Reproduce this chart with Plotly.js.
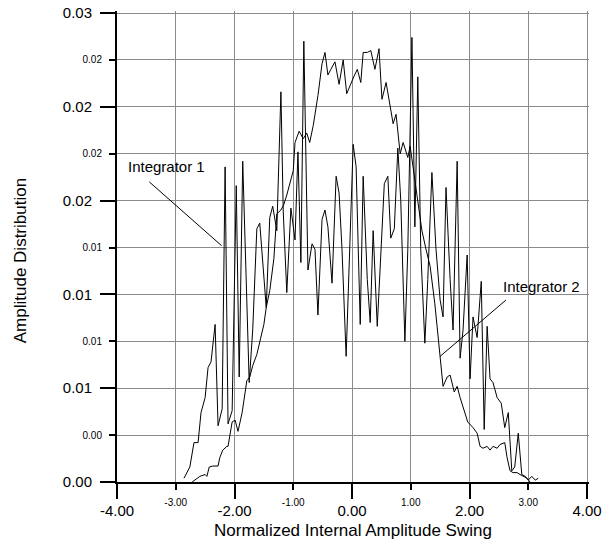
<!DOCTYPE html>
<html>
<head>
<meta charset="utf-8">
<script src="https://cdn.plot.ly/plotly-3.0.1.min.js"></script>
<style>
html,body{margin:0;padding:0;background:#fff;}
#chart{width:603px;height:542px;}
</style>
</head>
<body>
<div id="chart"></div>
<script>
// ---- Data ----
const int1X = [-2.86,-2.76,-2.69,-2.62,-2.57,-2.50,-2.45,-2.40,-2.33,-2.28,-2.21,-2.16,-2.11,-2.04,-1.97,-1.92,-1.86,-1.75,-1.69,-1.62,-1.57,-1.50,-1.46,-1.40,-1.35,-1.28,-1.21,-1.17,-1.11,-1.04,-0.97,-0.92,-0.87,-0.82,-0.75,-0.68,-0.63,-0.58,-0.51,-0.46,-0.41,-0.34,-0.27,-0.22,-0.17,-0.10,-0.05,0.02,0.07,0.14,0.19,0.26,0.31,0.36,0.43,0.48,0.55,0.61,0.66,0.72,0.78,0.83,0.90,0.95,1.02,1.07,1.12,1.17,1.24,1.29,1.36,1.43,1.50,1.55,1.60,1.67,1.72,1.79,1.84,1.89,1.96,2.01,2.06,2.13,2.20,2.25,2.30,2.35,2.40,2.47,2.54,2.60,2.66,2.72,2.77,2.83,2.89,2.95,3.00,3.06,3.12,3.17];
const int1Y = [0.0002,0.0008,0.0021,0.0021,0.0037,0.0045,0.0061,0.0064,0.0084,0.0030,0.0039,0.0168,0.0031,0.0038,0.0158,0.0056,0.0171,0.0053,0.0081,0.0135,0.0138,0.0108,0.0093,0.0141,0.0147,0.0134,0.0208,0.0144,0.0101,0.0146,0.0129,0.0176,0.0117,0.0235,0.0113,0.0127,0.0124,0.0089,0.0140,0.0145,0.0136,0.0106,0.0163,0.0154,0.0124,0.0067,0.0118,0.0180,0.0168,0.0084,0.0163,0.0108,0.0085,0.0134,0.0083,0.0118,0.0159,0.0163,0.0130,0.0135,0.0178,0.0150,0.0075,0.0124,0.0237,0.0136,0.0216,0.0124,0.0074,0.0108,0.0165,0.0124,0.0097,0.0088,0.0157,0.0108,0.0081,0.0171,0.0066,0.0081,0.0121,0.0055,0.0088,0.0077,0.0107,0.0028,0.0083,0.0055,0.0053,0.0045,0.0042,0.0029,0.0037,0.0006,0.0008,0.0026,0.0004,0.0003,0.0001,0.0003,0.0001,0.0002];

const int2X = [-2.72,-2.59,-2.50,-2.47,-2.43,-2.37,-2.28,-2.25,-2.20,-2.13,-2.11,-2.04,-1.99,-1.94,-1.87,-1.84,-1.79,-1.74,-1.69,-1.62,-1.55,-1.50,-1.46,-1.40,-1.33,-1.28,-1.21,-1.16,-1.11,-1.06,-1.00,-0.97,-0.90,-0.83,-0.77,-0.72,-0.66,-0.58,-0.51,-0.46,-0.41,-0.36,-0.29,-0.22,-0.15,-0.09,-0.03,0.03,0.09,0.15,0.19,0.26,0.32,0.39,0.46,0.51,0.58,0.63,0.70,0.75,0.82,0.87,0.95,0.99,1.06,1.12,1.19,1.26,1.33,1.41,1.50,1.55,1.62,1.67,1.74,1.79,1.84,1.89,1.97,2.06,2.13,2.18,2.23,2.30,2.35,2.40,2.47,2.52,2.60,2.64,2.69,2.74,2.81,2.86,2.91,2.98,3.03];
const int2Y = [0.0000,0.0003,0.0004,0.0003,0.0008,0.00085,0.00085,0.0013,0.0017,0.0019,0.0019,0.0032,0.0033,0.0027,0.0037,0.0044,0.0054,0.0056,0.0062,0.0068,0.0077,0.0084,0.0093,0.0102,0.0119,0.0143,0.0145,0.0148,0.0153,0.0159,0.0166,0.0181,0.0187,0.0183,0.0186,0.0181,0.0190,0.0206,0.0223,0.0229,0.0217,0.0220,0.0224,0.0212,0.0225,0.0207,0.0212,0.0216,0.0220,0.0213,0.0229,0.0229,0.0230,0.0220,0.0231,0.0204,0.0213,0.0203,0.0191,0.0196,0.0175,0.0181,0.0173,0.0179,0.0164,0.0150,0.0134,0.0124,0.0115,0.0095,0.0066,0.0051,0.0056,0.0057,0.0048,0.0051,0.0045,0.0040,0.0032,0.0029,0.0026,0.0019,0.0018,0.0019,0.0017,0.0019,0.0018,0.0020,0.0021,0.0013,0.0006,0.0005,0.0005,0.0004,0.0003,0.0002,0.0000];

// Tick values and labels
const xMajorVals = [-4, -2, 0, 2, 4];
const xMajorText = ['-4.00', '-2.00', '0.00', '2.00', '4.00'];
const xMinorVals = [-3, -1, 1, 3];
const xMinorText = ['-3.00', '-1.00', '1.00', '3.00'];
const yMajorVals = [0, 0.005, 0.01, 0.015, 0.02, 0.025];
const yMajorText = ['0.00', '0.01', '0.01', '0.02', '0.02', '0.03'];
const yMinorVals = [0.0025, 0.0075, 0.0125, 0.0175, 0.0225];
const yMinorText = ['0.00', '0.01', '0.01', '0.02', '0.02'];

// Ranges are padded by ~2px at the far ends so the edge grid lines stay visible
const xRange = [-4, 4.034];
const yRange = [0, 0.02511];

const seriesNames = ['Integrator 1', 'Integrator 2'];
const xTitle = 'Normalized Internal Amplitude Swing';
const yTitle = 'Amplitude Distribution';

// Label placement (data coordinates) for the two call-outs
const label1 = {text: 'Integrator 1', x: -3.15, y: 0.0168, lx0: -3.45, ly0: 0.0160, lx1: -2.22, ly1: 0.0126};
const label2 = {text: 'Integrator 2', x: 3.23, y: 0.0104, lx0: 2.62, ly0: 0.0097, lx1: 1.50, ly1: 0.0067};

const FONT = '"Liberation Sans", Arial, Helvetica, sans-serif';
const GRID = '#8a8a8a';

const traces = [
  {x: int1X, y: int1Y, type: 'scatter', mode: 'lines', name: seriesNames[0],
   line: {color: '#000', width: 1}, xaxis: 'x', yaxis: 'y'},
  {x: int2X, y: int2Y, type: 'scatter', mode: 'lines', name: seriesNames[1],
   line: {color: '#000', width: 1}, xaxis: 'x', yaxis: 'y'},
  {x: [], y: [], type: 'scatter', mode: 'lines', xaxis: 'x2', yaxis: 'y2',
   showlegend: false, hoverinfo: 'skip'}
];

const layout = {
  width: 603, height: 542,
  margin: {l: 117, r: 14, t: 10.5, b: 60, pad: 0},
  paper_bgcolor: '#fff', plot_bgcolor: '#fff',
  font: {family: FONT, color: '#000'},
  showlegend: false,
  xaxis: {
    range: xRange, tickmode: 'array', tickvals: xMajorVals, ticktext: xMajorText,
    ticks: 'outside', ticklen: 15, tickwidth: 2, tickcolor: '#000',
    showline: true, linewidth: 2, linecolor: '#000',
    showgrid: true, gridcolor: GRID, gridwidth: 1, zeroline: false,
    tickfont: {size: 15, family: FONT}, ticklabelstandoff: -1,
    title: {text: xTitle, font: {size: 17, family: FONT}, standoff: 6},
    fixedrange: true
  },
  xaxis2: {
    overlaying: 'x', anchor: 'y', side: 'bottom',
    range: xRange, tickmode: 'array', tickvals: xMinorVals, ticktext: xMinorText,
    ticks: 'outside', ticklen: 7, tickwidth: 2, tickcolor: '#000',
    showline: false, showgrid: true, gridcolor: GRID, gridwidth: 1, zeroline: false,
    tickfont: {size: 10, family: FONT}, ticklabelstandoff: 4, fixedrange: true
  },
  yaxis: {
    range: yRange, tickmode: 'array', tickvals: yMajorVals, ticktext: yMajorText,
    ticks: 'outside', ticklen: 15, tickwidth: 2, tickcolor: '#000',
    showline: true, linewidth: 2, linecolor: '#000',
    showgrid: true, gridcolor: GRID, gridwidth: 1, zeroline: false,
    tickfont: {size: 15, family: FONT}, ticklabelstandoff: 5,
    fixedrange: true
  },
  yaxis2: {
    overlaying: 'y', anchor: 'x', side: 'left',
    range: yRange, tickmode: 'array', tickvals: yMinorVals, ticktext: yMinorText,
    ticks: 'outside', ticklen: 7, tickwidth: 2, tickcolor: '#000',
    showline: false, showgrid: true, gridcolor: GRID, gridwidth: 1, zeroline: false,
    tickfont: {size: 10, family: FONT}, ticklabelstandoff: 5, fixedrange: true
  },
  annotations: [
    {text: label1.text, x: label1.x, y: label1.y, xref: 'x', yref: 'y',
     showarrow: false, font: {size: 15, family: FONT}, xanchor: 'center', yanchor: 'middle'},
    {text: label2.text, x: label2.x, y: label2.y, xref: 'x', yref: 'y',
     showarrow: false, font: {size: 15, family: FONT}, xanchor: 'center', yanchor: 'middle'},
    {text: yTitle, x: (20.5 - 117) / 472, y: (482 - 260.5) / 471.5, xref: 'paper', yref: 'paper',
     textangle: -90, showarrow: false, font: {size: 17, family: FONT},
     xanchor: 'center', yanchor: 'middle'}
  ],
  shapes: [
    {type: 'line', xref: 'x', yref: 'y', x0: label1.lx0, y0: label1.ly0, x1: label1.lx1, y1: label1.ly1,
     line: {color: '#000', width: 1}},
    {type: 'line', xref: 'x', yref: 'y', x0: label2.lx0, y0: label2.ly0, x1: label2.lx1, y1: label2.ly1,
     line: {color: '#000', width: 1}}
  ]
};

Plotly.newPlot('chart', traces, layout, {displayModeBar: false, staticPlot: true});
</script>
</body>
</html>
